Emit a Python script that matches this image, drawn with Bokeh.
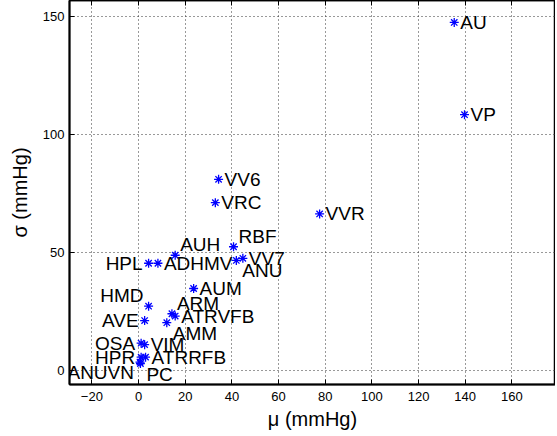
from bokeh.plotting import figure
from bokeh.models import ColumnDataSource, FixedTicker, Range1d, LinearAxis
from bokeh.core.properties import value
from bokeh.embed import file_html
from bokeh.resources import INLINE

# data (mu, sigma in mmHg)
names = ["AU", "VP", "VVR", "VV6", "VRC", "RBF", "AUH", "HPL", "ADHMV", "VV7", "ANU",
         "AUM", "HMD", "AVE", "ARM", "ATRVFB", "AMM", "OSA", "VIM", "HPR", "ATRRFB",
         "ANUVN", "PC"]
mu = [135.3, 139.7, 77.6, 34.3, 32.9, 40.7, 15.7, 4.3, 8.3, 44.7, 41.9,
      23.6, 4.3, 2.6, 14.3, 15.7, 12.1, 1.1, 2.6, 1.1, 3.0,
      0.6, 0.8]
sigma = [147.6, 108.5, 66.4, 81.1, 71.2, 52.5, 48.9, 45.5, 45.5, 47.6, 46.7,
         34.8, 27.3, 21.2, 24.1, 23.1, 20.3, 11.6, 11.0, 5.7, 5.7,
         3.6, 3.0]
# label placement relative to the marker
label_side = ["r", "r", "r", "r", "r", "ur", "ur", "l", "r", "r", "dr",
              "r", "ul", "l", "ur", "r", "dr", "l", "r", "l", "r",
              "dl", "dr"]
x_ticks = [-20, 0, 20, 40, 60, 80, 100, 120, 140, 160]
y_ticks = [0, 50, 100, 150]

FONT = "Liberation Sans"

p = figure(width=555, height=432, output_backend="svg", toolbar_location=None,
           x_range=Range1d(-29.6, 178.7), y_range=Range1d(-5.9, 156.9),
           min_border_left=69, min_border_right=0, min_border_top=0, min_border_bottom=10)
p.background_fill_color = "white"
p.border_fill_color = "white"
p.outline_line_color = "black"
p.outline_line_width = 1.5

bottom_axis = p.below[0]
left_axis = p.left[0]

for ax in (bottom_axis, left_axis):
    ax.major_tick_in = 5
    ax.major_tick_out = 0
    ax.minor_tick_line_color = None
    ax.axis_line_width = 2
    ax.axis_line_color = "black"
    ax.major_tick_line_color = "black"
    ax.major_label_text_font = FONT
    ax.major_label_text_font_size = "13px"
    ax.major_label_text_color = "black"
    ax.axis_label_text_font = FONT
    ax.axis_label_text_font_size = "20px"
    ax.axis_label_text_font_style = "normal"
    ax.axis_label_text_color = "black"

bottom_axis.ticker = FixedTicker(ticks=x_ticks)
left_axis.ticker = FixedTicker(ticks=y_ticks)
bottom_axis.axis_label = "\u03bc (mmHg)"
left_axis.axis_label = "\u03c3 (mmHg)"
bottom_axis.major_label_standoff = 7
bottom_axis.axis_label_standoff = 4
left_axis.major_label_standoff = 5
left_axis.axis_label_standoff = 9

top_axis = LinearAxis(ticker=FixedTicker(ticks=x_ticks), major_label_text_font_size="0px",
                      major_label_text_color=None, major_label_standoff=0,
                      major_tick_in=5, major_tick_out=0, minor_tick_line_color=None,
                      axis_line_color="black", axis_line_width=1.5)
p.add_layout(top_axis, "above")

p.xgrid.grid_line_color = "#333333"
p.ygrid.grid_line_color = "#333333"
p.xgrid.grid_line_dash = "1 3"
p.ygrid.grid_line_dash = "1 3"
p.xgrid.ticker = FixedTicker(ticks=x_ticks)
p.ygrid.ticker = FixedTicker(ticks=y_ticks)

src = ColumnDataSource(dict(x=mu, y=sigma, name=names))
p.scatter("x", "y", source=src, marker="asterisk", size=9, line_color="#0000ff",
          line_width=1.3)

placement = {
    "r": ("left", "middle", 6),
    "l": ("right", "middle", -6),
    "ur": ("left", "bottom", 5),
    "ul": ("right", "bottom", -5),
    "dr": ("left", "top", 6),
    "dl": ("right", "top", -6),
}
for side, (align, base, xoff) in placement.items():
    idx = [i for i, s in enumerate(label_side) if s == side]
    if not idx:
        continue
    s = ColumnDataSource(dict(x=[mu[i] for i in idx], y=[sigma[i] for i in idx],
                              t=[names[i] for i in idx]))
    p.text("x", "y", text="t", source=s, text_align=align, text_baseline=base,
           x_offset=xoff, text_font=value(FONT), text_font_size="19px",
           text_color="black")

open("out.html", "w").write(file_html(p, INLINE))
